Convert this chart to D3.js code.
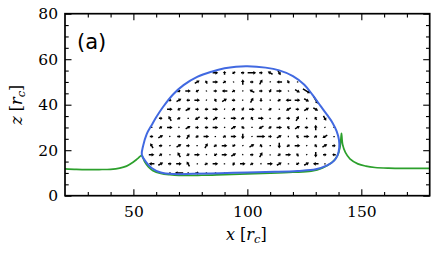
<!DOCTYPE html>
<html>
<head>
<meta charset="utf-8">
<script src="https://cdn.jsdelivr.net/npm/d3@7"></script>
<style>
  body { margin: 0; background: #fff; }
  text { font-family: "DejaVu Serif", serif; }
</style>
</head>
<body>
<script>
// interface line (green), x and z in r_c
const interfaceX = [20, 25, 30, 35, 40, 44, 47, 50, 52, 53.6, 54.9, 56.6, 58.6, 62, 66, 70, 80, 90, 100, 110, 120, 128, 133, 137, 139.5, 140.6, 141, 141.3, 141.8, 143, 145, 148.5, 152, 156, 162, 170, 180];
const interfaceZ = [11.8, 11.6, 11.5, 11.5, 11.6, 12.1, 13, 14.8, 16.4, 17.6, 15.0, 12.6, 11.0, 9.8, 9.2, 8.9, 9.0, 9.3, 9.6, 9.9, 10.3, 10.8, 12.2, 14.5, 17.5, 21, 24.5, 27.4, 22.5, 19, 16.2, 14.0, 13.0, 12.4, 12.1, 12.0, 12.0];

// droplet contour (blue), closed
const dropX = [100, 108, 114, 120, 125, 128.6, 132, 135, 137.4, 139.2, 140.2, 140.3, 139.6, 138, 135, 130, 122, 112, 100, 88, 76, 68, 62, 58, 55.4, 53.7, 54.3, 55.8, 58, 60, 63, 67.5, 72, 78, 84.3, 90, 95];
const dropZ = [56.9, 56.3, 55.1, 52.6, 48.8, 44.3, 39.6, 35.5, 32.0, 28.3, 24.5, 21, 17.8, 15.3, 13.3, 11.6, 10.9, 10.5, 10.2, 9.9, 9.6, 9.5, 10.2, 12.2, 15.0, 18.0, 22, 27, 31, 34.5, 39, 44.6, 48.6, 52.2, 54.5, 56.0, 56.7];

// velocity field: grid positions; each cell "dl" = direction (x30 deg, hex) and length class
const quiverX = [58, 62, 66, 70, 74, 78, 82, 86, 90, 94, 98, 102, 106, 110, 114, 118, 122, 126, 130, 134, 138];
const quiverZ = [54, 50, 46, 42, 38, 34, 30, 26, 22, 18, 14, 10];
const quiverRows = [
  "00 00 00 00 00 00 00 02 31 71 01 03 01 52 a2 00 00 00 00 00 00",
  "00 00 00 00 00 12 41 02 11 70 32 01 22 10 62 a1 00 00 00 00 00",
  "00 00 00 11 02 71 10 01 62 11 20 52 01 81 02 10 b2 b3 00 00 00",
  "00 00 01 12 61 02 20 41 12 01 70 22 91 00 11 62 02 b2 a3 00 00",
  "00 10 02 71 12 01 61 02 20 11 81 02 40 11 00 72 01 12 b2 00 00",
  "00 01 42 11 00 72 01 12 60 02 11 41 02 80 11 01 22 90 41 a2 00",
  "00 11 02 40 12 01 61 02 10 12 51 00 72 11 02 41 12 01 32 10 00",
  "01 12 40 01 22 11 02 60 11 02 92 10 03 01 12 30 41 02 11 72 00",
  "42 01 10 12 01 60 22 11 02 71 10 12 41 00 92 11 02 10 41 12 01",
  "02 11 00 42 11 02 10 71 02 12 40 01 22 90 11 02 41 10 92 01 61",
  "62 12 01 02 42 10 11 02 60 21 02 11 40 02 12 00 71 12 62 00 00",
  "00 00 00 63 00 01 00 00 00 00 00 00 00 00 00 00 00 00 00 00 00"
];

const xTicks = [50, 100, 150];
const zTicks = [0, 20, 40, 60, 80];

const W = 436, H = 256;
const mLeft = 65, mRight = 429.7, mTop = 13.7, mBottom = 195.7;

const xScale = d3.scaleLinear().domain([20, 180]).range([mLeft, mRight]);
const zScale = d3.scaleLinear().domain([0, 80]).range([mBottom, mTop]);

const svg = d3.select("body").append("svg")
  .attr("width", W)
  .attr("height", H);

// curves
const interfacePts = interfaceX.map((x, i) => [xScale(x), zScale(interfaceZ[i])]);
const dropPts = dropX.map((x, i) => [xScale(x), zScale(dropZ[i])]);

svg.append("path")
  .attr("d", d3.line().curve(d3.curveCatmullRom.alpha(0.5))(interfacePts))
  .attr("fill", "none")
  .attr("stroke", "#2ca02c")
  .attr("stroke-width", 1.7);

// arrows
const lenPx = [1.4, 3.6, 5.6, 8.5];
const arrows = svg.append("g");
quiverRows.forEach((row, r) => {
  row.split(" ").forEach((cell, c) => {
    const px = xScale(quiverX[c]), pz = zScale(quiverZ[r]);
    if (!d3.polygonContains(dropPts, [px, pz])) return;
    const ang = parseInt(cell[0], 16) * 30;
    const L = lenPx[+cell[1]];
    let d;
    if (+cell[1] === 0) {
      d = "M-0.6,-0.6H0.8V0.6H-0.6Z";
    } else {
      const hl = Math.min(2.8, L * 0.55), hw = 1.8, sw = 0.75;
      const x0 = -L / 2, x1 = L / 2;
      d = `M${x0},${-sw}L${x1 - hl},${-sw}L${x1 - hl},${-hw}L${x1},0L${x1 - hl},${hw}L${x1 - hl},${sw}L${x0},${sw}Z`;
    }
    arrows.append("path")
      .attr("d", d)
      .attr("transform", `translate(${px},${pz}) rotate(${-ang})`)
      .attr("fill", "#000");
  });
});

svg.append("path")
  .attr("d", d3.line().curve(d3.curveCatmullRomClosed.alpha(0.5))(dropPts))
  .attr("fill", "none")
  .attr("stroke", "#4169e1")
  .attr("stroke-width", 2);

// axes, ticks inward on all sides
const minorX = d3.range(30, 180, 10).filter(v => v % 50 !== 0);
const minorZ = d3.range(5, 80, 5).filter(v => v % 20 !== 0);

function styleAxis(g) {
  g.select(".domain").remove();
  g.selectAll("line").attr("stroke", "#000").attr("stroke-width", 1.1);
  g.selectAll("text").attr("font-size", 15.5).attr("font-family", "DejaVu Serif").attr("fill", "#000");
}

svg.append("g").attr("transform", `translate(0,${mBottom})`)
  .call(d3.axisBottom(xScale).tickValues(xTicks).tickSize(-6.5).tickPadding(10).tickFormat(d3.format("d")))
  .call(styleAxis);
svg.append("g").attr("transform", `translate(0,${mBottom})`)
  .call(d3.axisBottom(xScale).tickValues(minorX).tickSize(-3.7).tickFormat(""))
  .call(styleAxis);
svg.append("g").attr("transform", `translate(0,${mTop})`)
  .call(d3.axisTop(xScale).tickValues(xTicks).tickSize(-6.5).tickFormat(""))
  .call(styleAxis);
svg.append("g").attr("transform", `translate(0,${mTop})`)
  .call(d3.axisTop(xScale).tickValues(minorX).tickSize(-3.7).tickFormat(""))
  .call(styleAxis);

svg.append("g").attr("transform", `translate(${mLeft},0)`)
  .call(d3.axisLeft(zScale).tickValues(zTicks).tickSize(-6.5).tickPadding(7).tickFormat(d3.format("d")))
  .call(styleAxis);
svg.append("g").attr("transform", `translate(${mLeft},0)`)
  .call(d3.axisLeft(zScale).tickValues(minorZ).tickSize(-3.7).tickFormat(""))
  .call(styleAxis);
svg.append("g").attr("transform", `translate(${mRight},0)`)
  .call(d3.axisRight(zScale).tickValues(zTicks).tickSize(-6.5).tickFormat(""))
  .call(styleAxis);
svg.append("g").attr("transform", `translate(${mRight},0)`)
  .call(d3.axisRight(zScale).tickValues(minorZ).tickSize(-3.7).tickFormat(""))
  .call(styleAxis);

svg.append("rect")
  .attr("x", mLeft).attr("y", mTop)
  .attr("width", mRight - mLeft).attr("height", mBottom - mTop)
  .attr("fill", "none").attr("stroke", "#000").attr("stroke-width", 1.7);

// labels
const xl = svg.append("text")
  .attr("x", (mLeft + mRight) / 2 - 1).attr("y", 240)
  .attr("text-anchor", "middle").attr("font-size", 16);
xl.append("tspan").attr("font-style", "italic").text("x");
xl.append("tspan").text(" [");
xl.append("tspan").attr("font-style", "italic").text("r");
xl.append("tspan").attr("font-style", "italic").attr("font-size", 11.5).attr("dy", 3).text("c");
xl.append("tspan").attr("dy", -3).text("]");

const zl = svg.append("text")
  .attr("transform", `translate(22,${(mTop + mBottom) / 2}) rotate(-90)`)
  .attr("text-anchor", "middle").attr("font-size", 16);
zl.append("tspan").attr("font-style", "italic").text("z");
zl.append("tspan").text(" [");
zl.append("tspan").attr("font-style", "italic").text("r");
zl.append("tspan").attr("font-style", "italic").attr("font-size", 11.5).attr("dy", 3).text("c");
zl.append("tspan").attr("dy", -3).text("]");

svg.append("text")
  .attr("x", 77).attr("y", 48.5)
  .style("font-family", "DejaVu Sans")
  .attr("font-size", 21)
  .text("(a)");
</script>
</body>
</html>
